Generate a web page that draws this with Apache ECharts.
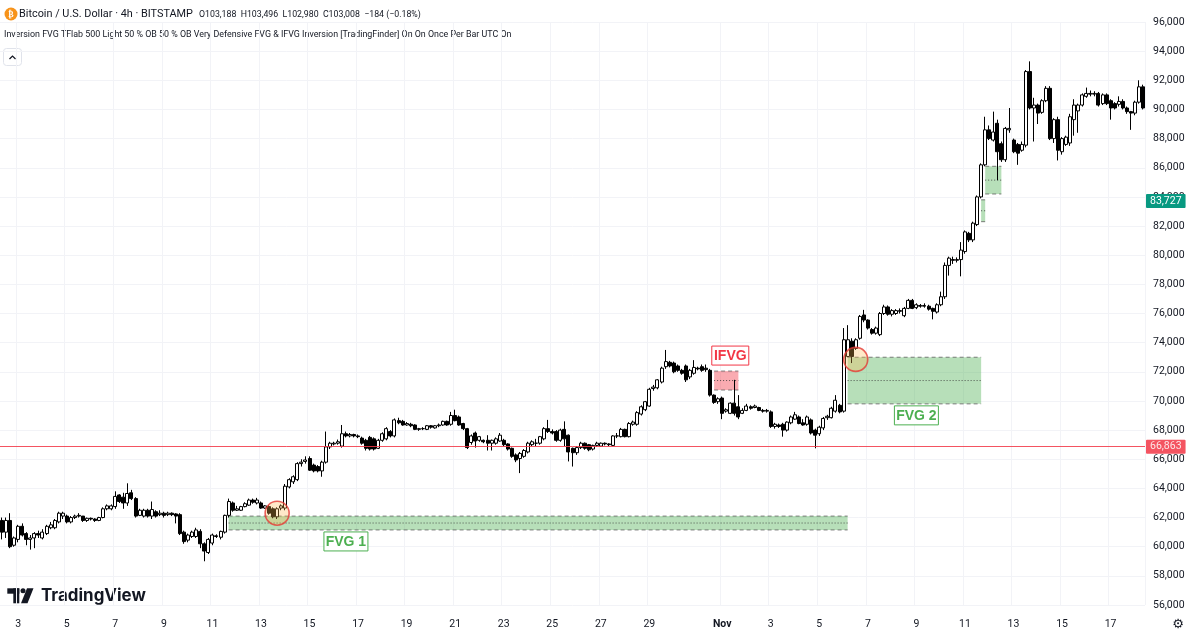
<!DOCTYPE html>
<html><head><meta charset="utf-8">
<script src="https://cdn.jsdelivr.net/npm/echarts@6/dist/echarts.min.js"></script>
<style>html,body{margin:0;padding:0;background:#fff}#c{width:1200px;height:636px}</style>
</head><body><div id="c"></div>
<script>
// ---- data: BTC/USD 4h candles, first candle 2024-10-02 08:00 UTC ----
const startTime = Date.UTC(2024, 9, 2, 8, 0);
const STEP = 4 * 3600 * 1000;

const opens = [
61800,61000,61800,60100,60500,61400,60900,60500,60600,60900,
60600,60900,61300,61300,61700,62100,62100,61700,62000,62100,
62100,61800,61950,61900,61800,62000,62600,62600,62750,63550,
63400,63000,63700,63300,62150,62100,62500,62100,62400,62200,
62300,62200,62300,62250,62200,61000,60450,60700,60700,61050,
60200,59600,60250,60700,60650,61000,62150,63000,62500,62500,
62750,62850,63200,63000,63000,62650,62750,62600,62050,62650,
62650,64100,64450,64600,65700,65850,66050,65600,65500,65200,
65800,66850,67050,67100,66900,67750,67600,67700,67600,67450,
67300,67500,67400,66750,67300,67400,67900,67600,68650,68600,
68350,68400,68350,68050,68100,68050,68300,68150,68300,68350,
68600,68400,69000,68900,68450,68100,67150,67800,67300,67300,
67300,67100,67100,67250,67300,67050,66750,66300,66050,66200,
66500,67000,67100,67100,67400,68100,67900,67900,67300,68050,
67650,66750,66450,66800,67100,67000,66700,66950,66900,67100,
67050,66950,67600,67550,68050,67550,68400,68400,69100,69400,
69650,70850,70900,71300,72350,72650,72600,72400,72100,72400,
71650,71900,72250,72350,72250,72100,70400,69950,70200,69300,
69150,69850,69600,69150,69350,69600,69550,69550,69350,69300,
69250,68250,68350,68400,68000,68500,68750,68900,68500,68400,
68700,68000,67750,68150,68850,68850,69300,69700,69300,73050,
74100,73600,74300,75900,75550,74900,74650,74550,76000,76450,
75950,76000,76150,75850,76350,76900,76400,76550,76500,76500,
76350,76100,76600,77150,79300,79700,79650,79700,80250,81500,
81050,82100,84000,86200,88600,87900,89050,87650,86550,88600,
87900,87600,87200,87550,92600,90100,90300,89800,90600,91450,
88000,89300,87100,87600,87700,89300,89900,90300,90900,91100,
91050,91100,90400,91000,90600,90400,90350,90550,90100,89850,
89750,90500,91550
];
const closes = [
61000,61800,60000,60600,61400,60800,60500,60600,60900,60800,
61000,61400,61500,61800,62300,62300,61700,62000,62100,62150,
61800,61950,61900,61800,62000,62600,62800,62800,63450,63100,
63000,63650,63300,62100,62500,62500,62100,62550,62100,62300,
62150,62300,62200,62100,60900,60350,60800,61000,61150,60200,
59700,60500,60800,60750,61050,62150,63100,62500,62600,62750,
62950,63200,63050,63200,62650,62800,62300,62050,62600,62800,
64150,64600,64800,65700,65800,65950,65250,65200,65200,65800,
66850,67100,67100,67200,67750,67600,67700,67600,67550,67100,
66750,66700,66700,67300,67750,68100,67600,68700,68500,68350,
68450,68300,68050,68100,68100,68300,68200,68300,68350,68600,
68350,69000,68650,68350,68100,66800,67600,67250,67550,67200,
67100,67300,67400,67650,67000,66700,66200,65950,66400,66600,
67100,67200,67100,67550,68100,67900,67800,67300,68000,67400,
66500,66450,66800,67100,66750,66650,66950,67100,67100,67050,
67000,67600,67600,68050,67550,68450,68550,69200,69600,69950,
70800,70950,71450,72250,72700,72400,72000,72100,71900,71450,
72100,72300,72200,72100,72150,70400,69900,70150,69150,69400,
69850,69150,68900,69350,69650,69500,69650,69350,69300,69350,
68250,68400,68250,68000,68550,68900,69050,68450,68350,68900,
67800,67650,68200,68800,68950,69500,70050,69250,74200,74200,
73050,74200,75800,75550,75000,74650,75000,76000,76450,75950,
76200,76200,76200,76350,76900,76350,76600,76500,76550,76300,
76150,76600,77150,79300,79800,79650,79700,80350,81600,81050,
82200,84000,86200,88600,88000,88450,87100,86550,88700,88700,
87100,87000,87600,92600,90100,90300,89750,90600,91450,88000,
89300,87200,88000,88100,89500,90300,90300,91000,91100,91050,
91100,90300,91000,90400,90100,90100,90550,90100,89850,89750,
90500,91550,90100
];
const lows = [
60500,60600,59900,60000,60300,60700,60100,59800,59900,60600,
60500,60800,61200,61200,61600,61900,61600,61600,61900,62000,
61700,61700,61800,61700,61750,61950,62500,62500,62600,63000,
62600,62800,63200,62000,62100,62000,62000,61900,62000,62100,
62000,62100,62100,61600,60800,60200,60300,60600,60600,59900,
59000,59500,60100,60600,60500,60900,62000,62400,62450,62450,
62700,62800,62950,62900,62600,62600,62200,61950,61900,62500,
62500,64000,64300,64500,65500,65700,65200,65100,65100,64800,
65700,66700,66950,67000,66800,67500,67500,67500,67450,67000,
66600,66600,66600,66700,67200,67300,67500,67500,68400,68300,
68300,68200,68000,67950,68000,68000,68100,68100,68200,68300,
68300,68300,68600,68300,68000,66700,67000,66800,67200,67100,
66600,66600,67000,67200,66900,66600,66100,65800,65050,66100,
66400,66900,66900,67000,67300,67800,67700,67200,67200,66900,
65850,65500,66300,66700,66650,66550,66600,66850,66850,66950,
66900,66900,67450,67500,67500,67500,68300,68300,69000,69300,
69600,70700,70800,71200,72200,72300,71900,72000,71800,71300,
71500,71800,72100,72000,72000,70300,69800,69800,68750,69200,
69100,69000,68750,69100,69300,69400,69500,69300,69200,69200,
68150,68100,68150,67550,67900,68400,68700,68400,68300,68300,
67700,66750,67600,68000,68700,68800,69200,69150,69200,73000,
72600,73500,74200,75400,74900,74550,74550,74450,75900,75850,
75800,75900,76000,75750,76300,76300,76300,76400,76400,76200,
75600,76000,76500,77000,78600,79400,79500,78550,80100,80900,
80900,82000,83900,86100,87900,87800,85150,86400,86400,88400,
87000,86200,87100,87400,90000,87800,89000,89700,90500,87900,
87700,86500,86900,87500,87500,88200,88400,90200,90800,90900,
90900,90200,90300,90300,89300,90000,90200,90000,89700,88600,
89600,90400,90000
];
const highs = [
62000,62000,62300,60700,61500,61600,61000,60800,61000,61100,
61200,61500,61700,61900,62400,62400,62200,62100,62200,62300,
62100,62000,62000,61950,62050,62700,62900,62900,63800,63600,
63700,64350,63900,63400,62600,62600,62600,63100,62500,62500,
62400,62400,62350,62300,62300,61100,60900,61100,61300,61200,
60300,60600,60900,60850,61100,62200,63300,63100,62800,62800,
63050,63300,63300,63350,63100,62850,62850,62700,62700,62900,
64300,64700,64900,65800,66000,66200,66200,65700,65600,65900,
67900,67200,67200,67350,68350,67900,67800,67750,67700,67550,
67400,67600,67500,67400,67850,68200,68000,68800,68850,68700,
68550,68500,68400,68150,68200,68350,68350,68350,68450,68650,
68650,69250,69400,69000,68500,68150,67700,67900,67600,67350,
67650,67350,67500,67800,67400,67100,66800,66400,66500,66700,
67200,67300,67400,67600,68200,68700,68050,68000,68100,68600,
67700,66800,66900,67200,67150,67050,67000,67200,67150,67150,
67100,67650,67800,68150,68100,68550,68650,69300,69700,70000,
70900,71100,71500,72350,73500,72750,72700,72500,72200,72500,
72200,72800,72350,72500,72500,72200,70450,70250,70300,69500,
69900,71450,70400,69500,69800,69700,69750,69600,69450,69450,
69350,68500,68450,68500,68600,69000,69250,69000,68750,69000,
68800,68100,68300,68900,69050,69600,70400,69800,75000,75200,
74300,74300,75900,76250,75600,75000,75100,76100,76600,76550,
76300,76300,76350,76450,77000,77000,76700,76650,76700,76600,
76400,76700,77500,79500,79900,79900,79850,80900,81700,81600,
82300,84100,86300,89500,88900,89850,89300,87800,88800,90100,
88000,87700,87800,92700,93300,90800,90400,90700,91600,91600,
89400,89500,88100,88200,89700,90700,90400,91100,91500,91300,
91250,91200,91100,91100,90700,90500,90900,90700,90200,89900,
90600,92000,91700
];

// gap zones (category index of start/end, price bounds)
const zoneStart  = [56, 176, 209, 242, 243];
const zoneEnd    = [209, 182, 242, 243, 247];
const zoneTop    = [62100, 72050, 73000, 83800, 86100];
const zoneBottom = [61150, 70750, 69800, 82300, 84200];
const zoneMid    = [61625, 71400, 71400, 83050, 85150];
const zoneKind   = ['fvg', 'ifvg', 'fvg', 'fvg', 'fvg'];
const zoneLabel  = ['FVG 1', 'IFVG', 'FVG 2', '', ''];
const zoneLabelAt   = [85, 180, 226, null, null];
const zoneLabelSide = ['below', 'above', 'below', null, null];

// retest markers [category index, price]
const retests = [[68, 62300], [211, 72850]];

// price lines
const redLinePrice = 66863;
const tealLabelPrice = 83727;

// y ticks
const yMin = 56000, yMax = 96000, yStep = 2000;

// ---- build ----
const categories = opens.map((_, i) => {
  const d = new Date(startTime + i * STEP);
  return d.toISOString().slice(0, 16).replace('T', ' ');
});
const candles = opens.map((o, i) => [o, closes[i], lows[i], highs[i]]);

function dayLabel(cat) {
  const m = +cat.slice(5, 7), d = +cat.slice(8, 10), h = +cat.slice(11, 13);
  if (h !== 0) return null;
  if (m === 10 && d % 2 === 1 && d >= 3 && d <= 29) return String(d);
  if (m === 11 && d === 1) return 'Nov';
  if (m === 11 && d % 2 === 1 && d >= 3) return String(d);
  return null;
}

// font size so that text fills a given width (no transform scaling)
const mctx = document.createElement('canvas').getContext('2d');
function fitFont(text, weight, family, base, w) {
  mctx.font = weight + ' ' + base + 'px ' + family;
  const s = base * w / mctx.measureText(text).width;
  return weight + ' ' + s.toFixed(2) + 'px ' + family;
}

const titleTxt = 'Bitcoin / U.S. Dollar · 4h · BITSTAMP';
const ohlcTxt = 'O103,188  H103,496  L102,980  C103,008  −184 (−0.18%)';
const indTxt = 'Inversion FVG TFlab 500 Light 50 % OB 50 % OB Very Defensive FVG & IFVG Inversion [TradingFinder] On On Once Per Bar UTC On';
const fam = '"Roboto"';

const chart = echarts.init(document.getElementById('c'));
const axisFont = 'Roboto';

chart.setOption({
  animation: false,
  backgroundColor: '#ffffff',
  grid: { left: 0, right: 55, top: 22, bottom: 31 },
  xAxis: {
    type: 'category',
    data: categories,
    boundaryGap: true,
    axisLine: { show: false },
    axisTick: { show: false },
    axisLabel: {
      interval: (i, v) => dayLabel(v) !== null,
      formatter: v => { const l = dayLabel(v); return l === 'Nov' ? '{b|Nov}' : (l || ''); },
      color: '#131722', fontSize: 10.5, fontFamily: axisFont, margin: 14,
      rich: { b: { fontWeight: 'bold', fontSize: 10.5, fontFamily: axisFont, color: '#131722' } }
    },
    splitLine: { show: true, interval: (i, v) => dayLabel(v) !== null, lineStyle: { color: '#f2f3f7', width: 1 } }
  },
  yAxis: {
    type: 'value',
    position: 'right',
    min: yMin, max: yMax, interval: yStep,
    axisLine: { show: false },
    axisTick: { show: false },
    axisLabel: {
      formatter: v => v.toLocaleString('en-US'),
      color: '#131722', fontSize: 10.5, fontFamily: axisFont, margin: 8
    },
    splitLine: { lineStyle: { color: '#f2f3f7', width: 1 } }
  },
  series: [
    {
      type: 'custom',
      z: 1,
      clip: false,
      encode: { x: [0, 1], y: [2, 3, 4] },
      data: zoneStart.map((s, i) => [s, zoneEnd[i], zoneTop[i], zoneBottom[i], zoneMid[i]]),
      renderItem: (params, api) => {
        const i = params.dataIndex;
        const a = api.coord([api.value(0), api.value(2)]);
        const b = api.coord([api.value(1), api.value(3)]);
        const m = api.coord([api.value(0), api.value(4)]);
        const xl = a[0], xr = b[0], yt = a[1], yb = b[1], ym = m[1];
        const red = zoneKind[i] === 'ifvg';
        const fill = red ? 'rgba(242,54,69,0.42)' : 'rgba(76,175,80,0.40)';
        const dash = { stroke: 'rgba(85,85,85,0.75)', lineWidth: 1, lineDash: [4, 3] };
        const ch = [
          { type: 'rect', shape: { x: xl, y: yt, width: xr - xl, height: yb - yt }, style: { fill: fill } },
          { type: 'line', shape: { x1: xl, y1: yt, x2: xr, y2: yt }, style: dash },
          { type: 'line', shape: { x1: xl, y1: yb, x2: xr, y2: yb }, style: dash },
          { type: 'line', shape: { x1: xl, y1: ym, x2: xr, y2: ym }, style: { stroke: 'rgba(50,50,50,0.8)', lineWidth: 1, lineDash: [1, 2] } }
        ];
        if (zoneLabel[i]) {
          const col = red ? '#f23645' : '#4caf50';
          const lx = api.coord([zoneLabelAt[i], yMin])[0];
          const w = red ? 37 : 44, h = 19;
          const ly = zoneLabelSide[i] === 'below' ? yb + 2 : yt - 6 - h;
          ch.push({ type: 'rect', shape: { x: lx - w / 2, y: ly, width: w, height: h },
                    style: { fill: 'rgba(255,255,255,0.92)', stroke: col, lineWidth: 1 } });
          ch.push({ type: 'text', x: lx, y: ly + h / 2 + 0.5,
                    style: { text: zoneLabel[i], fill: col, font: 'bold 14px "Liberation Sans"', align: 'center', verticalAlign: 'middle' } });
        }
        return { type: 'group', children: ch };
      }
    },
    {
      type: 'candlestick',
      z: 2,
      data: candles,
      barWidth: 3.5,
      itemStyle: {
        color: '#ffffff', color0: '#000000',
        borderColor: '#000000', borderColor0: '#000000', borderWidth: 1
      },
      markLine: {
        symbol: ['none', 'none'],
        silent: true,
        animation: false,
        label: {
          show: true, position: 'end', distance: 1,
          formatter: p => p.value.toLocaleString('en-US'),
          color: '#ffffff', fontSize: 10.5, fontFamily: axisFont,
          padding: [2, 4, 1, 4], borderRadius: 1
        },
        data: [
          { yAxis: redLinePrice, lineStyle: { color: '#f23645', width: 1, type: 'solid', opacity: 0.85 },
            label: { backgroundColor: '#f23645' } },
          { yAxis: tealLabelPrice, lineStyle: { color: 'rgba(0,0,0,0)', width: 0 },
            label: { backgroundColor: '#089981' } }
        ]
      }
    },
    {
      type: 'scatter',
      z: 3,
      data: retests,
      symbol: 'circle',
      symbolSize: 24,
      itemStyle: { color: 'rgba(255,183,77,0.38)', borderColor: '#e53935', borderWidth: 1.6 },
      silent: true
    }
  ],
  graphic: [
    { type: 'circle', shape: { cx: 11, cy: 14, r: 6.5 }, style: { fill: '#f7931a' } },
    { type: 'text', x: 11, y: 14.5, style: { text: '₿', fill: '#ffffff', font: 'bold 8px "DejaVu Sans"', align: 'center', verticalAlign: 'middle' } },
    { type: 'text', x: 19, y: 14,
      style: { text: titleTxt, fill: '#131722', font: fitFont(titleTxt, 'normal', fam, 12, 174), verticalAlign: 'middle' } },
    { type: 'text', x: 199, y: 14.5,
      style: { text: ohlcTxt, fill: '#131722', font: fitFont(ohlcTxt, 'normal', fam, 10, 222), verticalAlign: 'middle' } },
    { type: 'text', x: 4, y: 35,
      style: { text: indTxt, fill: '#131722', font: fitFont(indTxt, 'normal', fam, 11, 508), verticalAlign: 'middle' } },
    { type: 'rect', shape: { x: 3.5, y: 48.5, width: 18, height: 17, r: 3 }, style: { fill: '#ffffff', stroke: '#e0e3eb', lineWidth: 1 } },
    { type: 'polyline', shape: { points: [[9.5, 59], [12.5, 56], [15.5, 59]] }, style: { stroke: '#131722', lineWidth: 1.2, fill: null } },
    // TradingView watermark
    { type: 'rect', shape: { x: 7.3, y: 588.3, width: 12, height: 5.4 }, style: { fill: '#131722' } },
    { type: 'rect', shape: { x: 13.3, y: 588.3, width: 6, height: 15 }, style: { fill: '#131722' } },
    { type: 'circle', shape: { cx: 23, cy: 590.8, r: 2.5 }, style: { fill: '#131722' } },
    { type: 'polygon', shape: { points: [[27, 588.3], [33.5, 588.3], [27.5, 603.3], [21, 603.3]] }, style: { fill: '#131722' } },
    { type: 'text', x: 41, y: 596,
      style: { text: 'TradingView', fill: '#131722', font: fitFont('TradingView', 'bold', '"Inter"', 19, 105), verticalAlign: 'middle' } },
    { type: 'text', x: 1178, y: 625, style: { text: '⚙', fill: '#131722', font: '13px "DejaVu Sans"', align: 'center', verticalAlign: 'middle' } }
  ]
});
</script>
</body></html>
